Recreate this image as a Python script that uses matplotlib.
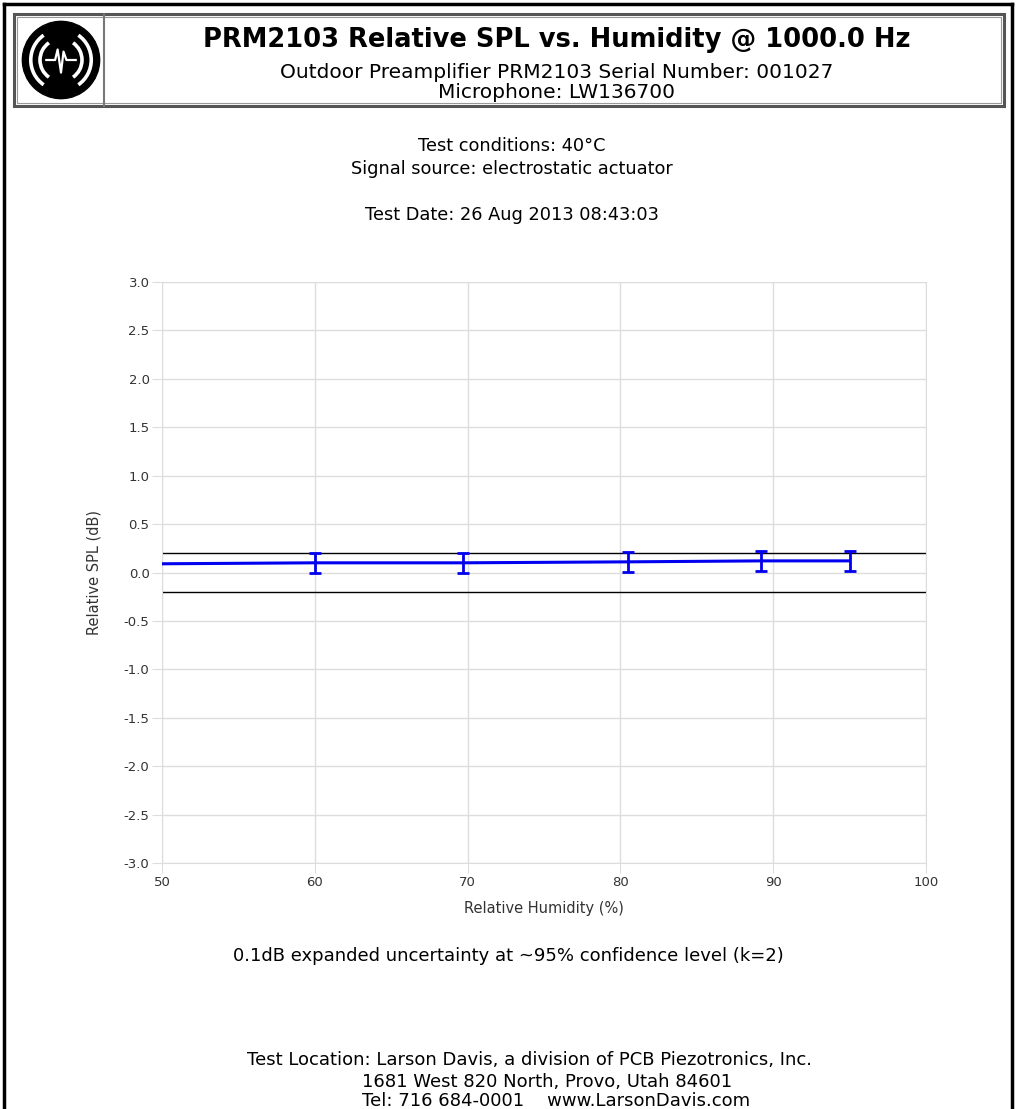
import matplotlib
matplotlib.use("Agg")
import matplotlib.pyplot as plt
import numpy as np
from matplotlib.patches import Rectangle, Circle, Arc

W, H = 1017, 1109

# data
humidity = [50, 60, 69.7, 80.5, 89.2, 95.0]
rel_spl = [0.09, 0.10, 0.10, 0.11, 0.12, 0.12]
err_humidity = [60, 69.7, 80.5, 89.2, 95.0]
err_spl = [0.10, 0.10, 0.11, 0.12, 0.12]
err_size = [0.10, 0.10, 0.10, 0.10, 0.10]
tol_upper = 0.2
tol_lower = -0.2
x_ticks = [50, 60, 70, 80, 90, 100]
y_ticks = [-3.0, -2.5, -2.0, -1.5, -1.0, -0.5, 0.0, 0.5, 1.0, 1.5, 2.0, 2.5, 3.0]

plt.rcParams['font.family'] = ['DejaVu Sans']

fig = plt.figure(figsize=(W / 100, H / 100), dpi=100)


def fx(px):
    return px / W


def fy(py):
    return 1 - py / H


# page border
fig.add_artist(plt.Line2D([fx(4), fx(4)], [fy(4), 0], transform=fig.transFigure, color='black', lw=2.5))
fig.add_artist(plt.Line2D([fx(4), fx(1012)], [fy(4), fy(4)], transform=fig.transFigure, color='black', lw=2.5))
fig.add_artist(plt.Line2D([fx(1012), fx(1012)], [fy(4), 0], transform=fig.transFigure, color='black', lw=2.5))

# header box
fig.add_artist(Rectangle((fx(14), fy(106)), fx(1004) - fx(14), fy(14) - fy(106),
                         transform=fig.transFigure, fill=False, ec='#555555', lw=2.2))
fig.add_artist(Rectangle((fx(17), fy(103)), fx(1001) - fx(17), fy(17) - fy(103),
                         transform=fig.transFigure, fill=False, ec='#999999', lw=0.8))
fig.add_artist(plt.Line2D([fx(104), fx(104)], [fy(106), fy(14)], transform=fig.transFigure,
                          color='#777777', lw=1.5))

# logo
lax = fig.add_axes([fx(18), fy(102), fx(104) - fx(18), fy(18) - fy(102)])
lax.set_xlim(-1, 1)
lax.set_ylim(-1, 1)
lax.set_aspect('equal')
lax.axis('off')
lax.add_patch(Circle((0, 0), 0.92, color='black'))
for r in [0.5, 0.72]:
    lax.add_patch(Arc((0, 0), 2 * r, 2 * r, theta1=125, theta2=235, color='white', lw=2.6))
    lax.add_patch(Arc((0, 0), 2 * r, 2 * r, theta1=-55, theta2=55, color='white', lw=2.6))
wx = [-0.35, -0.14, -0.08, 0.0, 0.06, 0.13, 0.35]
wy = [0.0, 0.0, 0.25, -0.3, 0.2, 0.0, 0.0]
lax.plot(wx, wy, color='white', lw=1.6)

# header text
fig.text(fx(557), fy(40), 'PRM2103 Relative SPL vs. Humidity @ 1000.0 Hz', ha='center', va='center',
         fontsize=18.5, fontweight='bold')
fig.text(fx(557), fy(72), 'Outdoor Preamplifier PRM2103 Serial Number: 001027', ha='center', va='center',
         fontsize=14.5)
fig.text(fx(557), fy(93), 'Microphone: LW136700', ha='center', va='center', fontsize=14.5)

fig.text(fx(512), fy(146), 'Test conditions: 40°C', ha='center', va='center', fontsize=12.8)
fig.text(fx(512), fy(169), 'Signal source: electrostatic actuator', ha='center', va='center', fontsize=12.8)
fig.text(fx(512), fy(215), 'Test Date: 26 Aug 2013 08:43:03', ha='center', va='center', fontsize=12.8)

# chart
ax = fig.add_axes([fx(162), fy(863), fx(926) - fx(162), fy(282) - fy(863)])
ax.set_xlim(50, 100)
ax.set_ylim(-3.0, 3.0)
ax.set_xticks(x_ticks)
ax.set_yticks(y_ticks)
ax.set_yticklabels(['%.1f' % v for v in y_ticks])
ax.grid(True, color='#dddddd', lw=1)
for s in ax.spines.values():
    s.set_color('#dddddd')
ax.tick_params(length=7, color='#dddddd', labelsize=9.5, labelcolor='#333333', pad=2)
ax.axhline(tol_upper, color='black', lw=1)
ax.axhline(tol_lower, color='black', lw=1)
ax.plot(humidity, rel_spl, color='#0000ee', lw=2.2, zorder=3)
ax.errorbar(err_humidity, err_spl, yerr=err_size, fmt='none', ecolor='#0000ee', elinewidth=2,
            capsize=4.5, capthick=2, zorder=4)
ax.set_xlabel('Relative Humidity (%)', fontsize=10.5, color='#333333', labelpad=9)
ax.set_ylabel('Relative SPL (dB)', fontsize=10.5, color='#333333', labelpad=16)

# footer text
fig.text(fx(508), fy(956), '0.1dB expanded uncertainty at ~95% confidence level (k=2)', ha='center',
         va='center', fontsize=13)
fig.text(fx(247), fy(1060), 'Test Location: Larson Davis, a division of PCB Piezotronics, Inc.', ha='left',
         va='center', fontsize=13)
fig.text(fx(362), fy(1082), '1681 West 820 North, Provo, Utah 84601', ha='left', va='center', fontsize=13)
fig.text(fx(362), fy(1101), 'Tel: 716 684-0001    www.LarsonDavis.com', ha='left', va='center', fontsize=13)

fig.savefig('out.png', dpi=100)
